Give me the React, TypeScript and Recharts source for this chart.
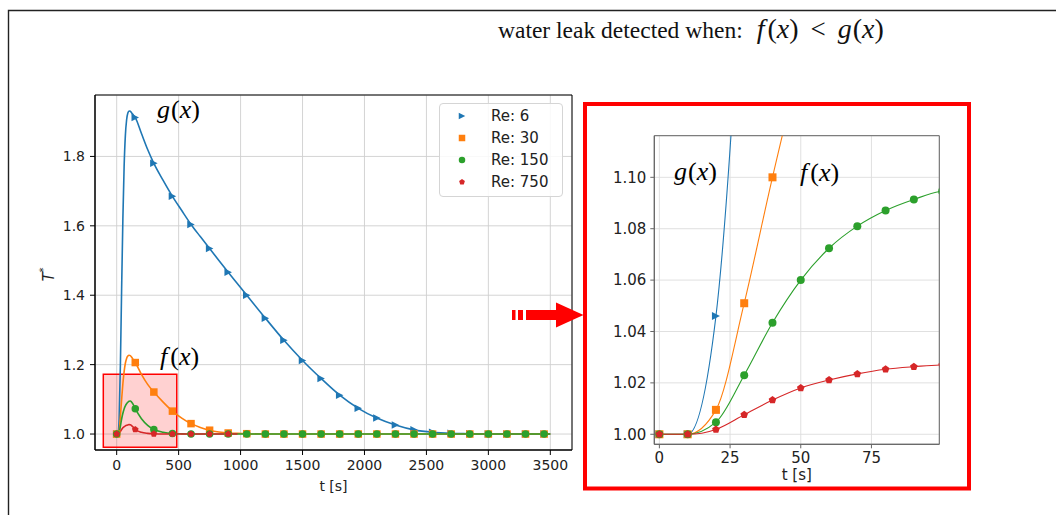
import { LineChart, Line, XAxis, YAxis, CartesianGrid, ReferenceArea, Legend } from "recharts";

// sample times [s]; markers sit on multiples of 150 (main) and 10 (zoom)
const TIME = [
  0, 10, 20, 30, 40, 50, 60, 70, 80, 90, 100, 110, 120, 135, 150,
  200, 250, 300, 375, 450, 525, 600, 675, 750, 825, 900, 975, 1050,
  1200, 1350, 1500, 1650, 1800, 1950, 2100, 2250, 2400, 2550, 2700,
  2850, 3000, 3150, 3300, 3450, 3500,
];

const RE6 = [
  1.0, 1.0, 1.046, 1.2, 1.42, 1.62, 1.77, 1.86, 1.905, 1.925, 1.931, 1.93, 1.926, 1.919, 1.912,
  1.866, 1.82, 1.78, 1.731, 1.685, 1.644, 1.604, 1.569, 1.535, 1.5, 1.466, 1.433, 1.4,
  1.334, 1.27, 1.212, 1.16, 1.112, 1.074, 1.046, 1.026, 1.012, 1.005, 1.002,
  1.001, 1.0, 1.0, 1.0, 1.0, 1.0,
];

const RE30 = [
  1.0, 1.0, 1.0095, 1.051, 1.1, 1.145, 1.18, 1.204, 1.218, 1.225, 1.227, 1.226, 1.222, 1.214, 1.206,
  1.172, 1.143, 1.121, 1.092, 1.066, 1.046, 1.03, 1.019, 1.011, 1.006, 1.003, 1.002, 1.001,
  1.0, 1.0, 1.0, 1.0, 1.0, 1.0, 1.0, 1.0, 1.0, 1.0, 1.0,
  1.0, 1.0, 1.0, 1.0, 1.0, 1.0,
];

const RE150 = [
  1.0, 1.0, 1.0047, 1.023, 1.0434, 1.06, 1.0724, 1.081, 1.0871, 1.0914, 1.0946, 1.0952, 1.0925, 1.084, 1.073,
  1.044, 1.025, 1.013, 1.005, 1.0015, 1.0005, 1.0, 1.0, 1.0, 1.0, 1.0, 1.0, 1.0,
  1.0, 1.0, 1.0, 1.0, 1.0, 1.0, 1.0, 1.0, 1.0, 1.0, 1.0,
  1.0, 1.0, 1.0, 1.0, 1.0, 1.0,
];

// Re 750 run stops around t = 1000 s
const RE750 = [
  1.0, 1.0, 1.0019, 1.0076, 1.0133, 1.018, 1.0211, 1.0235, 1.0253, 1.0263, 1.027, 1.0265, 1.0245, 1.019, 1.013,
  1.005, 1.002, 1.0007, 1.0, 1.0, 1.0, 1.0, 1.0, 1.0, 1.0, 1.0, 1.0,
];

const SERIES_NAMES = ["Re: 6", "Re: 30", "Re: 150", "Re: 750"];
const MAIN_X_TICKS = [0, 500, 1000, 1500, 2000, 2500, 3000, 3500];
const MAIN_Y_TICKS = [1.0, 1.2, 1.4, 1.6, 1.8];
const ZOOM_X_TICKS = [0, 25, 50, 75];
const ZOOM_Y_TICKS = [1.0, 1.02, 1.04, 1.06, 1.08, 1.1];

const COLORS = ["#1f77b4", "#ff7f0e", "#2ca02c", "#d62728"];
const SHAPES = ["tri", "square", "circle", "pent"];

const toRows = (vals: number[]) => vals.map((v, i) => ({ t: TIME[i], v }));
const SERIES = [RE6, RE30, RE150, RE750].map(toRows);

const FONT = "'DejaVu Sans', sans-serif";
const SERIF = "'Liberation Serif', 'DejaVu Serif', serif";

function Marker({ shape, cx, cy, size, color }: any) {
  const h = size / 2;
  if (shape === "tri")
    return <polygon points={`${cx + h},${cy} ${cx - h},${cy - h} ${cx - h},${cy + h}`} fill={color} />;
  if (shape === "square")
    return <rect x={cx - h} y={cy - h} width={size} height={size} fill={color} />;
  if (shape === "circle") return <circle cx={cx} cy={cy} r={h} fill={color} />;
  const pts = [0, 1, 2, 3, 4]
    .map((k) => {
      const a = ((-90 + 72 * k) * Math.PI) / 180;
      return `${cx + h * Math.cos(a)},${cy + h * Math.sin(a)}`;
    })
    .join(" ");
  return <polygon points={pts} fill={color} />;
}

const makeDot = (i: number, every: number, maxT: number, size: number) => (p: any) => {
  const { cx, cy, payload, index } = p;
  if (cx == null || cy == null || payload.t % every !== 0 || payload.t > maxT)
    return <g key={`d${i}-${index}`} />;
  return (
    <g key={`d${i}-${index}`}>
      <Marker shape={SHAPES[i]} cx={cx} cy={cy} size={size} color={COLORS[i]} />
    </g>
  );
};

function LegendBox() {
  return (
    <div
      style={{
        boxSizing: "border-box",
        width: 124,
        height: 94,
        border: "1px solid #d5d5d5",
        borderRadius: 4,
        background: "rgba(255,255,255,0.85)",
        paddingTop: 1,
        fontFamily: FONT,
        fontSize: 15,
        color: "#222",
      }}
    >
      {SERIES_NAMES.map((name, i) => (
        <div key={name} style={{ display: "flex", alignItems: "center", height: 22 }}>
          <svg width={30} height={22} style={{ marginLeft: 7 }}>
            <Marker shape={SHAPES[i]} cx={15} cy={11} size={i === 3 ? 6 : 6.5} color={COLORS[i]} />
          </svg>
          <span style={{ marginLeft: 14, lineHeight: "22px" }}>{name}</span>
        </div>
      ))}
    </div>
  );
}

function YLabel(p: any) {
  const vb = p.viewBox;
  const x = vb.x + 4;
  const y = vb.y + vb.height / 2 + 2;
  return (
    <text
      x={x}
      y={y}
      transform={`rotate(-90 ${x} ${y})`}
      textAnchor="middle"
      dominantBaseline="central"
      fontFamily={FONT}
      fontSize={15}
      fill="#222"
    >
      <tspan fontStyle="italic">T</tspan>
      <tspan fontSize={10} dy={-6}>*</tspan>
    </text>
  );
}

function MainChart() {
  const tick = { fill: "#222", fontSize: 14, fontFamily: FONT };
  return (
    <LineChart width={600} height={515} margin={{ top: 95, right: 28, bottom: 15, left: 45 }}>
      <CartesianGrid stroke="#cfcfcf" strokeWidth={0.9} />
      <XAxis
        type="number"
        dataKey="t"
        domain={[-175, 3675]}
        ticks={MAIN_X_TICKS}
        interval={0}
        allowDataOverflow
        height={50}
        tickSize={5}
        tickMargin={5}
        stroke="#000"
        tick={tick}
        label={{ value: "t [s]", position: "insideBottom", offset: 9, fill: "#222", fontSize: 14, fontFamily: FONT }}
      />
      <YAxis
        type="number"
        domain={[0.954, 1.977]}
        ticks={MAIN_Y_TICKS}
        interval={0}
        allowDataOverflow
        width={50}
        tickSize={5}
        tickMargin={5}
        stroke="#000"
        tick={tick}
        tickFormatter={(v: number) => v.toFixed(1)}
        label={{ content: YLabel }}
      />
      <ReferenceArea
        x1={-108}
        x2={485}
        y1={0.962}
        y2={1.172}
        fill="#ff0000"
        fillOpacity={0.18}
        stroke="#ff0000"
        strokeWidth={1.5}
      />
      {SERIES.map((rows, i) => (
        <Line
          key={SERIES_NAMES[i]}
          name={SERIES_NAMES[i]}
          data={rows}
          dataKey="v"
          type="monotone"
          stroke={COLORS[i]}
          strokeWidth={1.6}
          dot={makeDot(i, 150, 3500, i === 3 ? 7 : 7.5)}
          activeDot={false}
          isAnimationActive={false}
        />
      ))}
      <ReferenceArea x1={-175} x2={3675} y1={0.954} y2={1.977} fill="none" stroke="#000" strokeWidth={1} />
      <Legend
        layout="vertical"
        align="center"
        verticalAlign="middle"
        wrapperStyle={{ left: 439, top: 103, width: 124, height: 94 }}
        content={() => <LegendBox />}
      />
    </LineChart>
  );
}

function ZoomChart() {
  const tick = { fill: "#222", fontSize: 15, fontFamily: FONT };
  return (
    <LineChart width={370} height={375} margin={{ top: 25.7, right: 20.7, bottom: 0.7, left: 24.3 }}>
      <CartesianGrid stroke="#dcdcdc" strokeWidth={0.9} />
      <XAxis
        type="number"
        dataKey="t"
        domain={[-1.8, 99]}
        ticks={ZOOM_X_TICKS}
        interval={0}
        allowDataOverflow
        height={40}
        tickSize={4}
        tickMargin={4}
        stroke="#666"
        tick={tick}
        label={{ value: "t [s]", position: "insideBottom", offset: 4, fill: "#222", fontSize: 15, fontFamily: FONT }}
      />
      <YAxis
        type="number"
        domain={[0.9961, 1.1162]}
        ticks={ZOOM_Y_TICKS}
        interval={0}
        allowDataOverflow
        width={40}
        tickSize={4}
        tickMargin={4}
        stroke="#666"
        tick={tick}
        tickFormatter={(v: number) => v.toFixed(2)}
      />
      {SERIES.map((rows, i) => (
        <Line
          key={SERIES_NAMES[i]}
          name={SERIES_NAMES[i]}
          data={rows}
          dataKey="v"
          type="monotone"
          stroke={COLORS[i]}
          strokeWidth={1.1}
          dot={makeDot(i, 10, 100, 8)}
          activeDot={false}
          isAnimationActive={false}
        />
      ))}
      <ReferenceArea x1={-1.8} x2={99} y1={0.9961} y2={1.1162} fill="none" stroke="#666" strokeWidth={1} />
    </LineChart>
  );
}

function Fx({ f, size }: { f: string; size: number }) {
  return (
    <span style={{ fontFamily: SERIF, fontSize: size, whiteSpace: "nowrap" }}>
      <i>{f}</i>
      <span style={{ marginLeft: f === "f" ? 3 : 1 }}>(</span>
      <i>x</i>)
    </span>
  );
}

const abs = (left: number, top: number): any => ({ position: "absolute", left, top, lineHeight: 1 });

export default function App() {
  return (
    <div style={{ position: "relative", width: 1056, height: 515, overflow: "hidden", background: "#fff" }}>
      <style>{`body{margin:0}`}</style>
      <div style={abs(0, 0)}>
        <MainChart />
      </div>
      <div style={abs(590, 110)}>
        <ZoomChart />
      </div>

      <div style={abs(157, 97)}>
        <Fx f="g" size={26} />
      </div>
      <div style={abs(160, 344)}>
        <Fx f="f" size={26} />
      </div>
      <div style={abs(674, 159)}>
        <Fx f="g" size={26} />
      </div>
      <div style={abs(800, 160)}>
        <Fx f="f" size={26} />
      </div>

      <div style={{ ...abs(498, 15), whiteSpace: "nowrap", color: "#111" }}>
        <span style={{ fontFamily: SERIF, fontSize: 23.5 }}>water leak detected when:</span>
        <span style={{ marginLeft: 14 }}>
          <Fx f="f" size={28} />
        </span>
        <span style={{ fontFamily: SERIF, fontSize: 27, margin: "0 12px" }}>&lt;</span>
        <Fx f="g" size={28} />
      </div>

      <svg width={1056} height={515} style={{ position: "absolute", left: 0, top: 0, pointerEvents: "none" }}>
        <path d="M8.5 515 V10.5 H1056" fill="none" stroke="#222" strokeWidth={1.4} />
        <rect x={585} y={104} width={384} height={384.5} fill="none" stroke="#ff0000" strokeWidth={4} />
        <rect x={512} y={310} width={3.5} height={10} fill="#ff0000" />
        <rect x={518} y={310} width={5} height={10} fill="#ff0000" />
        <rect x={526} y={310} width={31} height={10} fill="#ff0000" />
        <polygon points="556,302.5 583.5,315 556,327.5" fill="#ff0000" />
      </svg>
    </div>
  );
}
